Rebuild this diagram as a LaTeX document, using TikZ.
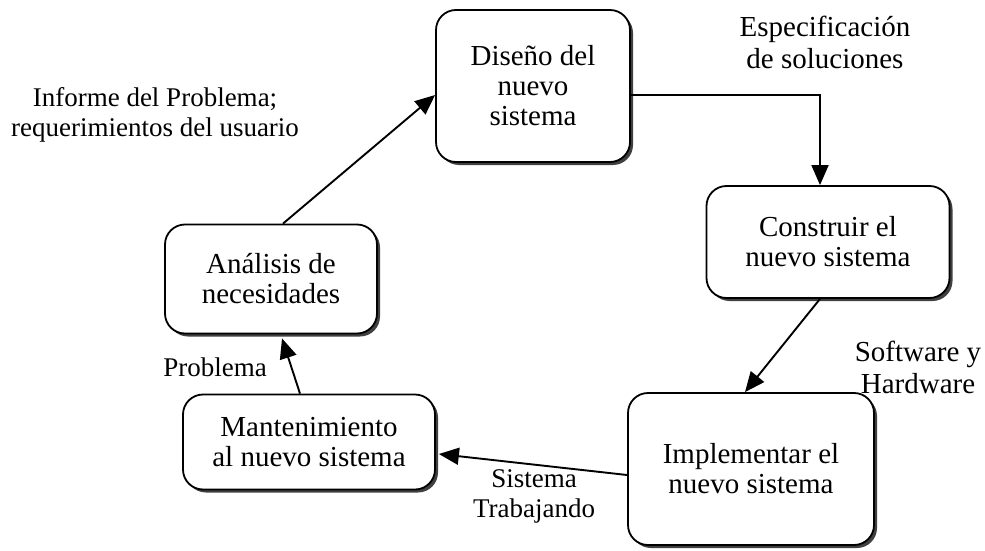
\documentclass[tikz,border=0pt]{standalone}
\usepackage{fontspec}
\setmainfont{Liberation Serif}
\usetikzlibrary{arrows.meta,shadows}
\begin{document}
\begin{tikzpicture}[x=1pt,y=-1pt,
  caja/.style={draw,line width=1.8pt,rounded corners=20pt,fill=white,align=center,
    font=\fontsize{29}{30}\selectfont,inner sep=0pt,
    drop shadow={shadow xshift=3pt,shadow yshift=-3pt,fill=black!75,opacity=1}},
  flecha/.style={line width=1.9pt,-{Triangle[length=20pt,width=17pt]}},
  etiqueta/.style={align=center,inner sep=0pt,font=\fontsize{29}{32}\selectfont},
  chica/.style={align=center,inner sep=0pt,font=\fontsize{27}{30}\selectfont}]
\useasboundingbox (0,0) rectangle (985,551);
% cajas del ciclo
\node[caja,minimum width=194pt,minimum height=152pt] (dis) at (533,86) {Diseño del\\nuevo\\sistema};
\node[caja,minimum width=243pt,minimum height=112pt] (con) at (828,242) {Construir el\\nuevo sistema};
\node[caja,minimum width=246pt,minimum height=152pt] (imp) at (751,469) {Implementar el\\nuevo sistema};
\node[caja,minimum width=252pt,minimum height=95pt] (man) at (309,442) {Mantenimiento\\al nuevo sistema};
\node[caja,minimum width=212pt,minimum height=109pt] (ana) at (271,279) {Análisis de\\necesidades};
% etiquetas
\node[etiqueta] (esp) at (825,42) {Especificación\\de soluciones};
\node[chica] (inf) at (155,115) {Informe del Problema;\\requerimientos del usuario};
\node[etiqueta] (sof) at (918,367) {Software y\\Hardware};
\node[chica] (pro) at (215,367) {Problema};
\node[chica] (sis) at (534,496) {Sistema\\Trabajando};
% flechas
\draw[flecha] ([xshift=12pt]ana.north) -- ([yshift=-9pt]dis.west);
\draw[flecha] ([yshift=-9pt]dis.east) -| ([xshift=-8pt]con.north);
\draw[flecha] ([xshift=-8pt]con.south) -- ([xshift=-6pt]imp.north);
\draw[flecha] ([yshift=-6pt]imp.west) -- ([xshift=3pt,yshift=-12pt]man.east);
\draw[flecha] ([xshift=-9pt]man.north) -- ([xshift=11pt,yshift=-4pt]ana.south);
\end{tikzpicture}
\end{document}
